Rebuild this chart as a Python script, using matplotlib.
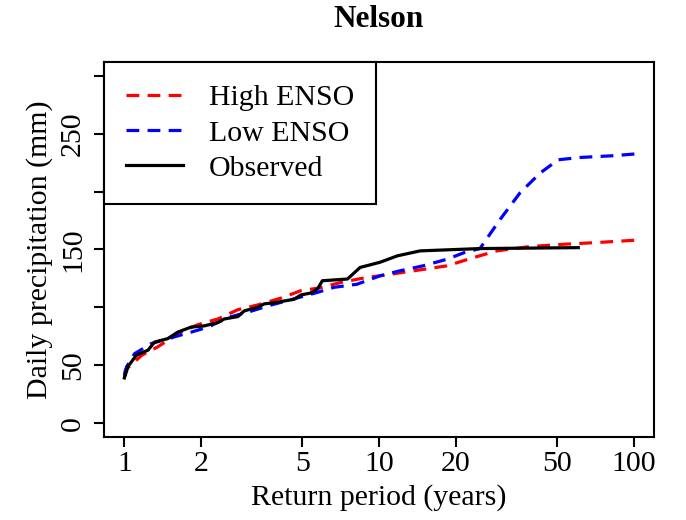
import numpy as np
import matplotlib.pyplot as plt

plt.rcParams["font.family"] = "Liberation Serif"

# return period (years) and daily precipitation (mm)
obs_x = [1.0, 1.034, 1.114, 1.238, 1.314, 1.48, 1.62, 1.83, 2.06, 2.33, 2.47,
         2.79, 2.96, 3.33, 3.54, 3.88, 4.64, 4.93, 5.39, 5.74, 5.99, 7.52,
         8.43, 10.1, 11.8, 14.5, 24.9, 60.6]
obs_y = [39, 49, 58.6, 63, 70, 73, 78.6, 83, 84, 87, 90,
         92, 97, 100, 103, 104, 107, 110.7, 112.4, 116, 123, 124.5,
         134.5, 139, 144.5, 148.8, 150.8, 151.6]

high_x = [1.0, 1.01, 1.17, 1.355, 1.48, 1.67, 1.94, 2.33, 2.79, 3.33, 4.12,
          4.93, 5.9, 7.07, 9.0, 10.1, 13.7, 18.5, 23.5, 29, 39, 52.8, 71.6, 101]
high_y = [40, 46, 58.6, 66, 71.5, 78.7, 85, 90, 98, 102, 108,
          114.4, 117, 121.5, 126, 127.3, 131.6, 135.9, 143, 148.8, 152.5,
          154.5, 156, 158]

low_x = [1.0, 1.02, 1.097, 1.275, 1.72, 1.83, 2.13, 2.58, 3.05, 3.76, 4.37,
         5.74, 6.65, 8.2, 10.1, 12.1, 14.9, 18.5, 21.6, 24.9, 29.9, 35.8,
         42.9, 50.5, 61.5, 83, 102]
low_y = [41.5, 48.6, 60, 68.7, 77, 78.6, 83, 91.5, 95.8, 102, 105.8,
         113, 117.3, 120, 127.3, 131.6, 135.9, 141.6, 147.3, 150.8, 176, 199,
         216, 227.5, 229.5, 231, 232.6]

xticks = [1, 2, 5, 10, 20, 50, 100]
yticks = [0, 50, 100, 150, 200, 250, 300]
ylabels = ["0", "50", "", "150", "", "250", ""]

fig = plt.figure(figsize=(6.86, 5.2), dpi=100)
ax = fig.add_axes([0.1516, 0.1596, 0.8018, 0.7212])

dash = (0, (4, 2.6))
ax.plot(high_x, high_y, color="red", lw=2.3, ls=dash, label="High ENSO")
ax.plot(low_x, low_y, color="blue", lw=2.3, ls=dash, label="Low ENSO")
ax.plot(obs_x, obs_y, color="black", lw=2.3, label="Observed")

ax.set_xscale("log")
ax.set_xlim(10 ** -0.08, 10 ** 2.08)
ax.set_ylim(-12, 312)
ax.set_xticks(xticks)
ax.set_xticklabels([str(t) for t in xticks])
ax.minorticks_off()
ax.set_yticks(yticks)
ax.set_yticklabels(ylabels, rotation=90, va="center")
ax.tick_params(labelsize=21.5, length=7, width=1.5, direction="out")
ax.tick_params(axis="x", pad=3)
ax.tick_params(axis="y", pad=6)
for s in ax.spines.values():
    s.set_linewidth(1.5)

ax.set_xlabel("Return period (years)", fontsize=21.5, labelpad=5)
ax.set_ylabel("Daily precipitation (mm)", fontsize=21.5, labelpad=5)
ax.set_title("Nelson", fontsize=22.5, fontweight="bold", pad=25)

leg = ax.legend(loc="upper left", bbox_to_anchor=(0, 1), borderaxespad=0,
                fontsize=21.5, fancybox=False, edgecolor="black",
                handlelength=1.9, borderpad=0.75, labelspacing=0.28,
                handletextpad=0.85)
leg.get_frame().set_linewidth(1.5)
leg.get_frame().set_alpha(1)

fig.savefig("out.png", dpi=100)
